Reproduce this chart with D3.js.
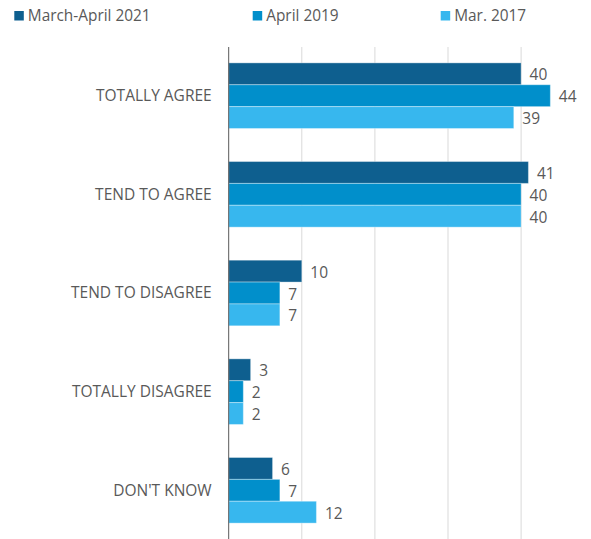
<!DOCTYPE html>
<html>
<head>
<meta charset="utf-8">
<script src="https://cdn.jsdelivr.net/npm/d3@7"></script>
<style>
html,body{margin:0;padding:0;background:#fff;}
svg{display:block;}
text{font-family:"Open Sans","Noto Sans",sans-serif;fill:#595959;}
</style>
</head>
<body>
<svg id="chart" width="591" height="539"></svg>
<script>
const categories = ["TOTALLY AGREE","TEND TO AGREE","TEND TO DISAGREE","TOTALLY DISAGREE","DON'T KNOW"];
const seriesNames = ["March-April 2021","April 2019","Mar. 2017"];
const values2021 = [40, 41, 10, 3, 6];
const values2019 = [44, 40, 7, 2, 7];
const values2017 = [39, 40, 7, 2, 12];
const gridTicks = [10, 20, 30, 40];
const colors = ["#0e5f8f","#018fcb","#37b7ee"];

const series = [values2021, values2019, values2017];
const svg = d3.select("#chart");
const W = 591, H = 539;
const x = d3.scaleLinear().domain([0, 50]).range([228.7, 228.7 + 365.5]);
const y = d3.scaleBand().domain(categories).range([47, 539]).paddingInner(0.335).paddingOuter(0.161);
const yInner = d3.scaleBand().domain(d3.range(seriesNames.length)).range([0, y.bandwidth()]);

// gridlines
svg.append("g").selectAll("line").data(gridTicks).join("line")
  .attr("x1", d => x(d)).attr("x2", d => x(d))
  .attr("y1", 47).attr("y2", H)
  .attr("stroke", "#d9d9d9").attr("stroke-width", 1);

// bars
const groups = svg.append("g").selectAll("g").data(categories).join("g")
  .attr("transform", d => `translate(0,${y(d)})`);
groups.selectAll("rect").data((c, i) => series.map((s, k) => ({k, v: s[i]}))).join("rect")
  .attr("x", x(0)).attr("y", d => yInner(d.k))
  .attr("width", d => x(d.v) - x(0)).attr("height", yInner.bandwidth())
  .attr("fill", d => colors[d.k])
  .attr("stroke", "#ffffff").attr("stroke-opacity", 0.35).attr("stroke-width", 1);
groups.selectAll("text.val").data((c, i) => series.map((s, k) => ({k, v: s[i]}))).join("text")
  .attr("class", "val")
  .attr("x", d => x(d.v) + 8.5)
  .attr("y", d => yInner(d.k) + yInner.bandwidth() / 2 + 1.2)
  .attr("dy", "0.35em")
  .attr("font-size", 15.5)
  .text(d => d.v);

// axis line
svg.append("line").attr("x1", x(0)).attr("x2", x(0)).attr("y1", 47).attr("y2", H)
  .attr("stroke", "#595959").attr("stroke-width", 1);

// category labels
svg.append("g").selectAll("text").data(categories).join("text")
  .attr("x", x(0) - 17).attr("y", d => y(d) + y.bandwidth() / 2)
  .attr("dy", "0.35em").attr("text-anchor", "end").attr("font-size", 15.5)
  .text(d => d);

// legend
const legendX = [14.3, 252.7, 440.7];
const lg = svg.append("g").selectAll("g").data(seriesNames).join("g")
  .attr("transform", (d, i) => `translate(${legendX[i]},0)`);
lg.append("rect").attr("x", 0).attr("y", 11).attr("width", 9.5).attr("height", 9.5)
  .attr("fill", (d, i) => colors[i]);
lg.append("text").attr("x", 13.5).attr("y", 20.7).attr("font-size", 15.4).text(d => d);
</script>
</body>
</html>
